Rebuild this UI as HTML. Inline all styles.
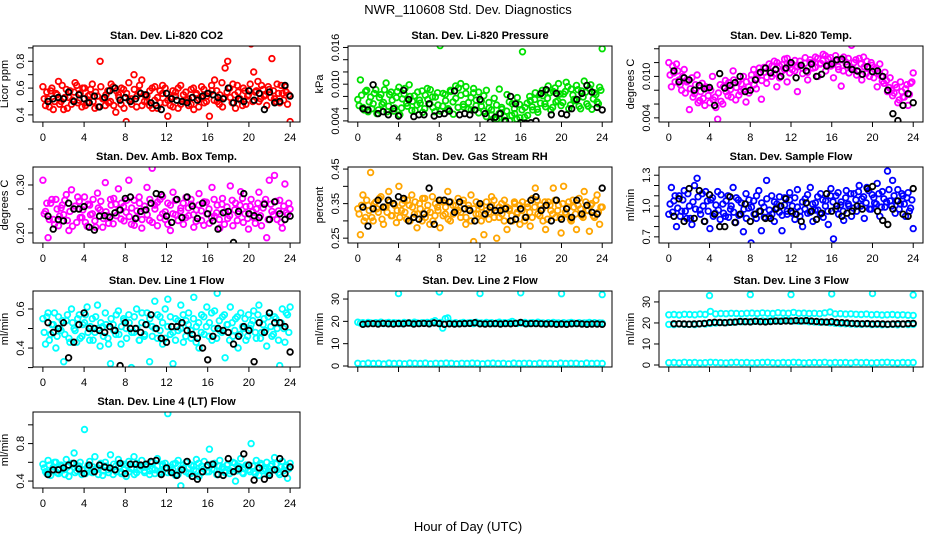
<!DOCTYPE html>
<html><head><meta charset="utf-8"><style>
html,body{margin:0;padding:0;background:#fff;}
svg{display:block;font-family:"Liberation Sans",Arial,sans-serif;}
</style></head><body>
<svg id="chart" width="936" height="540" viewBox="0 0 936 540">
<rect width="936" height="540" fill="#fff"/>
<text x="468" y="14" text-anchor="middle" font-size="13">NWR_110608  Std. Dev. Diagnostics</text>
<text x="468" y="531" text-anchor="middle" font-size="13">Hour of Day (UTC)</text>
</svg>
<script>
// ---- data (quarter-hour colored series, offset quarter-hour second series, half-hour black series) ----
const co2Color=[0.61,0.47,0.52,0.58,0.44,0.56,0.65,0.50,0.44,0.59,0.53,0.48,0.57,0.62,0.51,0.46,0.60,0.49,0.55,0.63,0.45,0.54,0.80,0.52,0.47,0.58,0.50,0.61,0.42,0.55,0.48,0.59,0.35,0.64,0.52,0.70,0.46,0.57,0.66,0.50,0.54,0.47,0.60,0.51,0.45,0.58,0.62,0.49,0.39,0.53,0.46,0.57,0.60,0.48,0.55,0.51,0.47,0.59,0.44,0.56,0.52,0.61,0.49,0.54,0.39,0.58,0.66,0.50,0.55,0.46,0.75,0.80,0.53,0.63,0.45,0.57,0.51,0.60,0.48,0.55,0.93,0.72,0.58,0.50,0.62,0.54,0.47,0.59,0.82,0.52,0.63,0.49,0.56,0.61,0.48,0.35];
const co2Color2=[0.52,0.57,0.46,0.60,0.50,0.55,0.48,0.62,0.53,0.45,0.58,0.51,0.64,0.49,0.56,0.60,0.47,0.54,0.59,0.50,0.57,0.46,0.61,0.52,0.55,0.49,0.63,0.47,0.58,0.53,0.60,0.45,0.56,0.51,0.48,0.59,0.54,0.62,0.47,0.55,0.50,0.58,0.45,0.61,0.53,0.49,0.56,0.60,0.51,0.47,0.58,0.54,0.45,0.62,0.50,0.57,0.52,0.48,0.60,0.55,0.46,0.53,0.59,0.50,0.56,0.62,0.51,0.58,0.48,0.64,0.53,0.57,0.60,0.49,0.55,0.62,0.52,0.47,0.58,0.54,0.63,0.50,0.57,0.65,0.52,0.59,0.55,0.61,0.53,0.58,0.50,0.56,0.62,0.51,0.57,0.55];
const co2Black=[0.50,0.52,0.53,0.52,0.57,0.50,0.55,0.52,0.49,0.54,0.46,0.53,0.58,0.60,0.51,0.53,0.50,0.52,0.56,0.55,0.49,0.47,0.44,0.56,0.52,0.51,0.50,0.49,0.53,0.51,0.54,0.56,0.55,0.53,0.52,0.60,0.49,0.52,0.50,0.58,0.51,0.56,0.44,0.57,0.49,0.50,0.62,0.54];
const presColor=[.0075,.0107,.0062,.0088,.0055,.0079,.0068,.0091,.0058,.0083,.0070,.0102,.0064,.0087,.0056,.0078,.0095,.0061,.0084,.0069,.0099,.0057,.0081,.0066,.0074,.0089,.0060,.0093,.0068,.0079,.0055,.0086,.0163,.0064,.0083,.0058,.0090,.0071,.0097,.0062,.0101,.0067,.0085,.0059,.0078,.0093,.0065,.0087,.0072,.0056,.0090,.0061,.0050,.0077,.0043,.0092,.0059,.0047,.0083,.0040,.0068,.0052,.0078,.0045,.0153,.0062,.0049,.0073,.0058,.0086,.0054,.0069,.0081,.0063,.0097,.0058,.0088,.0071,.0101,.0065,.0084,.0103,.0060,.0092,.0075,.0098,.0064,.0089,.0105,.0068,.0093,.0059,.0086,.0071,.0095,.0158];
const presColor2=[.0065,.0082,.0058,.0090,.0071,.0060,.0085,.0052,.0078,.0067,.0091,.0055,.0083,.0074,.0061,.0088,.0050,.0076,.0093,.0064,.0080,.0072,.0057,.0087,.0069,.0054,.0082,.0075,.0091,.0062,.0079,.0066,.0056,.0085,.0073,.0060,.0088,.0051,.0077,.0094,.0082,.0063,.0096,.0070,.0058,.0086,.0074,.0053,.0064,.0081,.0047,.0070,.0058,.0044,.0066,.0052,.0062,.0041,.0056,.0071,.0049,.0060,.0043,.0067,.0058,.0046,.0069,.0080,.0063,.0075,.0059,.0083,.0090,.0068,.0077,.0086,.0062,.0094,.0073,.0084,.0070,.0088,.0096,.0066,.0082,.0073,.0091,.0060,.0079,.0087,.0064,.0099,.0076,.0083,.0068,.0090];
const presBlack=[.0060,.0058,.0099,.0052,.0055,.0050,.0060,.0048,.0090,.0075,.0047,.0050,.0050,.0068,.0048,.0051,.0052,.0056,.0089,.0050,.0052,.0050,.0058,.0075,.0052,.0038,.0046,.0052,.0040,.0080,.0068,.0037,.0036,.0037,.0040,.0085,.0091,.0050,.0085,.0052,.0050,.0060,.0075,.0085,.0098,.0087,.0062,.0058];
const tempColor=[.0120,.0085,.0105,.0118,.0095,.0080,.0110,.0092,.0052,.0098,.0075,.0102,.0065,.0090,.0058,.0083,.0062,.0100,.0070,.0038,.0088,.0060,.0094,.0072,.0081,.0108,.0066,.0092,.0078,.0100,.0063,.0085,.0095,.0110,.0082,.0104,.0067,.0113,.0090,.0118,.0100,.0122,.0085,.0115,.0108,.0125,.0092,.0118,.0110,.0123,.0078,.0116,.0104,.0127,.0095,.0120,.0112,.0128,.0100,.0119,.0132,.0108,.0125,.0115,.0098,.0123,.0110,.0086,.0128,.0117,.0105,.0145,.0120,.0102,.0126,.0095,.0114,.0122,.0100,.0116,.0110,.0085,.0118,.0093,.0106,.0078,.0098,.0072,.0088,.0062,.0092,.0070,.0082,.0058,.0090,.0105];
const tempColor2=[.0102,.0115,.0092,.0108,.0088,.0100,.0076,.0094,.0082,.0070,.0088,.0062,.0078,.0068,.0085,.0072,.0080,.0066,.0055,.0076,.0064,.0085,.0078,.0091,.0070,.0095,.0084,.0073,.0089,.0081,.0092,.0076,.0102,.0088,.0097,.0112,.0094,.0106,.0099,.0108,.0115,.0104,.0120,.0098,.0117,.0110,.0126,.0105,.0118,.0108,.0114,.0122,.0112,.0119,.0106,.0124,.0120,.0113,.0126,.0118,.0123,.0130,.0116,.0127,.0120,.0130,.0114,.0124,.0108,.0121,.0126,.0112,.0110,.0124,.0107,.0118,.0128,.0104,.0112,.0120,.0098,.0112,.0104,.0100,.0090,.0094,.0084,.0080,.0076,.0084,.0066,.0078,.0070,.0088,.0074,.0092];
const tempBlack=[.0108,.0092,.0098,.0095,.0080,.0087,.0082,.0084,.0058,.0104,.0083,.0087,.0091,.0100,.0078,.0080,.0095,.0106,.0112,.0105,.0110,.0100,.0112,.0120,.0098,.0116,.0108,.0118,.0100,.0103,.0115,.0118,.0124,.0125,.0117,.0110,.0108,.0103,.0114,.0107,.0108,.0100,.0080,.0046,.0036,.0058,.0075,.0062];
const boxColor=[.310,.245,.19,.262,.228,.270,.215,.252,.238,.280,.205,.290,.250,.222,.266,.232,.275,.214,.258,.240,.225,.283,.248,.212,.305,.236,.270,.219,.260,.292,.229,.255,.243,.310,.218,.268,.232,.275,.210,.248,.295,.226,.335,.258,.215,.270,.240,.228,.262,.205,.285,.238,.172,.252,.218,.274,.236,.260,.212,.248,.282,.226,.265,.240,.220,.295,.235,.258,.210,.272,.244,.230,.298,.215,.262,.240,.286,.222,.255,.208,.270,.232,.250,.285,.215,.262,.190,.310,.245,.320,.228,.268,.210,.302,.238,.250];
const boxColor2=[.240,.262,.228,.270,.218,.250,.235,.258,.268,.226,.245,.214,.256,.275,.232,.248,.222,.260,.238,.270,.212,.252,.266,.230,.244,.220,.258,.272,.236,.248,.262,.225,.268,.234,.252,.216,.246,.262,.228,.256,.238,.270,.222,.250,.264,.232,.276,.244,.218,.258,.240,.268,.226,.246,.262,.232,.252,.270,.238,.224,.258,.246,.216,.264,.250,.232,.270,.242,.228,.260,.218,.254,.236,.268,.248,.226,.258,.272,.240,.230,.256,.244,.220,.262,.236,.252,.270,.228,.260,.238,.266,.246,.222,.256,.242,.262];
const boxBlack=[.235,.208,.228,.225,.262,.250,.250,.255,.212,.206,.235,.236,.233,.242,.248,.272,.275,.230,.245,.248,.262,.282,.280,.235,.222,.270,.232,.275,.256,.230,.262,.240,.225,.208,.242,.245,.180,.245,.282,.240,.236,.232,.260,.228,.265,.240,.228,.235];
const rhColor=[.335,.260,.375,.310,.345,.440,.300,.355,.325,.370,.290,.340,.385,.315,.350,.295,.400,.330,.360,.305,.345,.375,.320,.280,.350,.300,.365,.330,.290,.370,.315,.340,.280,.355,.320,.385,.300,.345,.330,.365,.310,.350,.290,.335,.375,.240,.320,.345,.300,.260,.355,.325,.370,.310,.250,.340,.320,.360,.275,.335,.300,.350,.325,.290,.355,.310,.340,.285,.365,.395,.320,.345,.300,.275,.355,.330,.395,.310,.345,.265,.400,.320,.355,.300,.340,.275,.365,.315,.385,.330,.270,.350,.310,.375,.290,.340];
const rhColor2=[.320,.345,.300,.360,.330,.310,.350,.335,.365,.305,.340,.325,.355,.315,.345,.330,.310,.350,.325,.360,.300,.340,.355,.320,.335,.365,.310,.345,.325,.300,.350,.330,.360,.315,.340,.305,.355,.320,.345,.330,.325,.360,.310,.345,.300,.335,.355,.320,.340,.315,.330,.305,.345,.360,.325,.310,.350,.300,.340,.330,.315,.355,.320,.345,.330,.300,.350,.325,.310,.340,.360,.315,.335,.355,.305,.345,.320,.360,.330,.310,.350,.325,.340,.305,.360,.320,.345,.335,.310,.355,.330,.345,.315,.360,.325,.340];
const rhBlack=[.340,.285,.335,.360,.340,.360,.350,.370,.365,.300,.310,.305,.320,.395,.290,.360,.360,.355,.325,.355,.335,.330,.300,.350,.320,.340,.330,.330,.335,.300,.305,.335,.310,.360,.370,.330,.345,.300,.360,.305,.335,.310,.360,.320,.345,.325,.320,.395];
const sampColor=[.92,1.18,1.05,.80,1.10,.95,1.15,.88,1.00,.82,1.20,1.27,.96,1.12,.85,1.05,.78,1.08,.93,1.14,.87,1.02,.90,1.10,.97,1.18,.84,1.06,.92,.75,1.12,.98,.64,1.05,.88,1.15,.76,.99,1.25,.90,1.10,.85,1.02,.94,.76,1.08,.92,1.13,1.00,.87,1.16,.95,.80,1.07,.93,1.18,.85,1.03,.96,1.12,.89,1.05,.82,1.17,.68,1.10,.92,1.04,.86,1.15,1.00,.90,1.12,.95,1.20,1.07,.88,1.18,.97,1.11,1.03,1.22,.90,1.14,.99,1.34,1.05,1.25,.93,1.16,1.02,1.10,.90,1.13,.98,.78];
const sampColor2=[1.02,.94,1.10,.98,.90,1.06,.95,1.12,.88,1.04,.97,1.09,.92,1.00,1.14,.95,1.06,.90,1.01,.96,1.11,.93,1.05,.89,1.00,.94,1.08,.91,1.03,.97,.88,1.06,.99,.92,1.10,.95,1.03,.89,1.07,.96,.92,1.04,.98,1.09,.91,1.01,.95,1.06,.93,1.08,.99,.90,1.04,.97,1.11,.94,1.02,.96,1.09,.92,1.06,1.00,.95,1.10,1.04,.97,1.13,1.01,.95,1.08,1.02,1.12,.98,1.06,1.14,1.00,1.09,1.03,1.15,.97,1.08,1.02,1.12,.99,1.07,1.04,1.16,1.00,1.10,1.05,.97,1.12,1.02,1.08,.95,1.06];
const sampBlack=[.90,1.07,.85,1.17,.88,1.15,.85,1.11,.92,.80,.80,1.09,.84,.92,1.02,.85,.92,.95,.88,.88,.97,1.00,1.07,.95,.92,.85,1.03,.95,.87,.93,1.12,.95,1.00,.90,.93,.95,1.00,.97,1.17,1.19,.95,.86,.82,.97,1.05,.92,.90,1.17];
const l1Color=[.55,.42,.58,.47,.52,.40,.56,.49,.33,.54,.45,.60,.50,.43,.57,.46,.53,.61,.44,.55,.48,.62,.41,.51,.58,.45,.32,.52,.47,.59,.42,.55,.50,.57,.30,.48,.60,.44,.53,.46,.58,.33,.51,.64,.45,.56,.42,.60,.65,.47,.32,.55,.49,.62,.43,.54,.58,.45,.66,.51,.40,.57,.47,.61,.53,.44,.59,.68,.49,.56,.35,.52,.61,.46,.55,.40,.58,.50,.44,.57,.52,.59,.45,.62,.48,.55,.41,.58,.46,.56,.50,.31,.60,.43,.57,.61];
const l1Color2=[.48,.56,.44,.52,.58,.46,.50,.54,.47,.57,.43,.53,.49,.55,.45,.52,.57,.48,.51,.44,.56,.50,.53,.46,.52,.42,.55,.49,.57,.47,.51,.54,.45,.53,.48,.56,.50,.44,.58,.47,.52,.55,.46,.50,.57,.49,.53,.45,.51,.56,.48,.44,.54,.50,.57,.46,.52,.49,.55,.43,.53,.48,.56,.51,.46,.58,.50,.45,.54,.48,.57,.52,.44,.53,.49,.56,.47,.51,.55,.46,.50,.54,.48,.57,.45,.52,.49,.56,.51,.47,.55,.44,.53,.50,.58,.48];
const l1Black=[.53,.48,.50,.53,.35,.43,.52,.58,.50,.50,.49,.48,.51,.49,.31,.53,.50,.50,.48,.52,.57,.50,.45,.43,.51,.51,.53,.49,.47,.45,.40,.34,.46,.50,.49,.48,.42,.46,.51,.49,.33,.53,.48,.58,.53,.53,.51,.38];
const l2Hi=[19.6,19.2,19.4,19.0,19.5,19.3,19.1,19.4,19.2,19.6,19.0,19.3,19.5,19.1,19.4,19.2,19.3,19.0,19.5,19.2,19.4,19.1,19.6,19.3,19.1,19.4,19.2,19.5,19.0,19.8,20.3,19.2,19.5,17.0,21.2,21.5,19.3,19.1,19.4,19.0,19.2,19.5,19.1,19.3,19.4,19.0,19.6,19.2,19.3,19.1,19.5,19.2,19.4,19.0,19.3,19.6,19.1,19.4,19.2,19.5,20.0,19.3,19.1,19.4,19.2,19.5,19.0,19.3,19.4,19.1,19.6,19.2,19.3,19.0,19.4,19.1,19.5,19.2,19.3,19.0,19.4,19.1,19.3,19.5,19.2,19.0,19.4,19.1,19.3,19.2,19.5,19.0,19.4,19.1,19.3,19.2];
const l2Lo=[1.2,1.0,1.3,1.1,1.2,0.9,1.3,1.1,1.2,1.0,1.3,1.2,1.1,1.3,1.0,1.2,1.1,1.3,1.2,1.0,1.2,1.1,1.3,1.2,1.0,1.2,1.3,1.1,1.2,1.0,1.3,1.1,1.2,1.2,1.0,1.3,1.1,1.2,1.0,1.3,1.1,1.2,1.2,1.0,1.3,1.1,1.2,1.1];
const l2Black=[18.7,18.9,19.0,18.8,19.1,18.9,18.8,19.0,18.9,19.2,18.8,19.0,19.1,18.9,19.3,19.0,18.7,18.9,18.8,18.9,19.0,19.1,19.4,18.9,18.8,18.9,19.0,18.8,19.0,18.9,19.1,19.5,18.9,19.0,19.0,18.9,18.8,18.9,18.7,18.8,18.7,18.9,19.0,18.8,18.7,18.8,18.8,18.7];
const outlierHours=[4,8,12,16,20,24];
const l2Out=[32.5,33.2,32.5,32.8,32.4,32.0];
const l3Hi=[23.9,24.0,23.8,24.1,24.0,23.9,24.2,24.0,25.5,24.3,24.5,24.4,24.6,24.5,24.4,24.6,24.7,24.5,24.8,24.6,24.5,24.9,24.7,24.6,25.0,24.6,24.7,24.5,24.6,24.4,24.8,25.2,24.3,24.4,24.2,24.3,24.1,24.0,24.2,23.9,24.0,23.8,23.9,24.0,23.8,23.9,23.7,23.6];
const l3Mid=[19.3,19.2,19.5,19.3,19.4,19.2,19.6,19.5,19.8,20.0,20.2,20.1,20.3,20.5,20.6,20.8,20.7,20.9,21.0,20.9,21.1,21.0,21.2,21.1,21.0,20.8,20.9,20.6,20.5,20.3,20.4,20.1,19.9,19.7,19.6,19.5,19.4,19.3,19.5,19.2,19.3,19.1,19.2,19.3,19.1,19.4,19.2,19.3];
const l3Lo=[1.1,1.2,1.0,1.3,1.1,1.2,1.0,1.1,1.3,1.2,1.1,1.0,1.2,1.3,1.1,1.2,1.0,1.1,1.2,1.3,1.1,1.0,1.2,1.1,1.3,1.2,1.0,1.1,1.2,1.1,1.3,1.0,1.2,1.1,1.2,1.0,1.3,1.1,1.2,1.0,1.1,1.2,1.3,1.1,1.0,1.2,1.1,1.2];
const l3Black=[19.6,19.6,19.5,19.4,19.5,19.6,19.8,20.1,20.3,20.2,20.1,20.3,20.4,20.7,20.6,20.5,20.8,20.6,20.5,20.7,20.9,20.8,21.0,20.9,21.1,21.0,21.1,20.9,20.7,20.5,20.4,20.6,20.2,20.1,20.0,19.8,19.7,19.6,19.7,19.5,19.6,19.5,19.4,19.5,19.6,19.5,19.7,19.8];
const l3Out=[33.0,33.5,33.5,33.8,34.0,33.3];
const l4Color=[.58,.50,.62,.46,.55,.60,.48,.57,.52,.63,.45,.59,.70,.51,.56,.47,.95,.54,.61,.49,.66,.53,.58,.46,.60,.52,.68,.47,.56,.63,.50,.58,.45,.61,.53,.66,.49,.57,.62,.51,.55,.47,.60,.52,.64,.48,.56,.59,1.12,.50,.58,.46,.62,.35,.54,.60,.48,.57,.52,.63,.45,.56,.61,.50,.74,.53,.59,.47,.62,.55,.49,.58,.51,.60,.40,.56,.64,.48,.57,.52,.80,.50,.62,.46,.57,.53,.60,.49,.58,.65,.52,.47,.61,.55,.43,.59];
const l4Color2=[.54,.48,.57,.51,.60,.49,.53,.56,.47,.55,.51,.58,.49,.54,.60,.52,.48,.57,.50,.55,.53,.47,.59,.51,.56,.49,.53,.58,.50,.55,.48,.52,.57,.50,.54,.47,.59,.52,.55,.49,.57,.51,.53,.48,.56,.50,.58,.54,.49,.55,.52,.59,.47,.53,.57,.50,.54,.48,.56,.51,.59,.49,.53,.55,.50,.58,.52,.47,.56,.53,.50,.57,.48,.54,.59,.51,.55,.49,.53,.57,.50,.56,.48,.54,.59,.51,.53,.47,.56,.52,.58,.49,.55,.51,.57,.53];
const l4Black=[.47,.52,.52,.54,.57,.59,.53,.48,.57,.50,.57,.55,.54,.52,.59,.48,.58,.58,.57,.58,.61,.62,.47,.54,.49,.46,.52,.61,.45,.42,.50,.57,.58,.47,.46,.64,.50,.53,.69,.57,.41,.54,.42,.46,.52,.64,.48,.55];
const xTicks=[0,4,8,12,16,20,24];

const NS='http://www.w3.org/2000/svg';
const svg=document.getElementById('chart');
function mk(tag,attrs,parent){const e=document.createElementNS(NS,tag);for(const k in attrs)e.setAttribute(k,attrs[k]);(parent||svg).appendChild(e);return e;}
// time grid: mode 0 = evenly 0..24, 1 = (i+1)*step, 2 = offset by half a step
function hoursFor(arr,mode){
 if(mode===1){const s=24/arr.length;return arr.map((_,i)=>(i+1)*s);}
 if(mode===2){const s=24/arr.length;return arr.map((_,i)=>(i+0.5)*s);}
 const s=24/(arr.length-1);return arr.map((_,i)=>i*s);
}

const colL=[33,348,659],colR=[300,612,923],rowT=[46,167,291,412],H=76;
const panels=[
 {t:'Stan. Dev. Li-820 CO2',yl:'Licor ppm',c:0,r:0,y0:0.347,y1:0.914,ticks:[0.4,0.5,0.6,0.7,0.8,0.9],labs:{'0.4':'0.4','0.6':'0.6','0.8':'0.8'},series:[[co2Color2,'#ff0000',2],[co2Color,'#ff0000',0],[co2Black,'#000',1]]},
 {t:'Stan. Dev. Li-820 Pressure',yl:'kPa',c:1,r:0,y0:0.00382,y1:0.01624,ticks:[.004,.006,.008,.010,.012,.014,.016],labs:{'0.004':'0.004','0.01':'0.010','0.016':'0.016'},series:[[presColor2,'#00e000',2],[presColor,'#00e000',0],[presBlack,'#000',1]]},
 {t:'Stan. Dev. Li-820 Temp.',yl:'degrees C',c:2,r:0,y0:0.0034,y1:0.0144,ticks:[.004,.006,.008,.010,.012,.014],labs:{'0.004':'0.004','0.01':'0.010'},series:[[tempColor2,'#ff00ff',2],[tempColor,'#ff00ff',0],[tempBlack,'#000',1]]},
 {t:'Stan. Dev. Amb. Box Temp.',yl:'degrees C',c:0,r:1,y0:0.179,y1:0.3375,ticks:[.20,.25,.30],labs:{'0.2':'0.20','0.3':'0.30'},series:[[boxColor2,'#ff00ff',2],[boxColor,'#ff00ff',0],[boxBlack,'#000',1]]},
 {t:'Stan. Dev. Gas Stream RH',yl:'percent',c:1,r:1,y0:0.236,y1:0.456,ticks:[.25,.30,.35,.40,.45],labs:{'0.25':'0.25','0.35':'0.35','0.45':'0.45'},series:[[rhColor2,'#ffa500',2],[rhColor,'#ffa500',0],[rhBlack,'#000',1]]},
 {t:'Stan. Dev. Sample Flow',yl:'ml/min',c:2,r:1,y0:0.64,y1:1.38,ticks:[.7,.8,.9,1.0,1.1,1.2,1.3],labs:{'0.7':'0.7','1':'1.0','1.3':'1.3'},series:[[sampColor2,'#0000ff',2],[sampColor,'#0000ff',0],[sampBlack,'#000',1]]},
 {t:'Stan. Dev. Line 1 Flow',yl:'ml/min',c:0,r:2,y0:0.303,y1:0.692,ticks:[.3,.4,.5,.6],labs:{'0.4':'0.4','0.6':'0.6'},series:[[l1Color2,'#00ffff',2],[l1Color,'#00ffff',0],[l1Black,'#000',1]]},
 {t:'Stan. Dev. Line 2 Flow',yl:'ml/min',c:1,r:2,y0:-0.45,y1:33.6,ticks:[0,10,20,30],labs:{'0':'0','10':'10','20':'20','30':'30'},series:[[l2Hi,'#00ffff',0],[l2Lo,'#00ffff',0],[l2Black,'#000',1]],out:l2Out},
 {t:'Stan. Dev. Line 3 Flow',yl:'ml/min',c:2,r:2,y0:-0.95,y1:35.2,ticks:[0,10,20,30],labs:{'0':'0','10':'10','20':'20','30':'30'},series:[[l3Hi,'#00ffff',0],[l3Mid,'#00ffff',0],[l3Lo,'#00ffff',0],[l3Black,'#000',1]],out:l3Out},
 {t:'Stan. Dev. Line 4 (LT) Flow',yl:'ml/min',c:0,r:3,y0:0.326,y1:1.137,ticks:[.4,.6,.8,1.0],labs:{'0.4':'0.4','0.8':'0.8'},series:[[l4Color2,'#00ffff',2],[l4Color,'#00ffff',0],[l4Black,'#000',1]]}
];

panels.forEach((p,pi)=>{
 const L=colL[p.c],R=colR[p.c],T=rowT[p.r],B=T+H;
 const g=mk('g',{});
 
 
 const xs=h=>L+(h+0.96)/25.92*(R-L);
 const ys=v=>B-(v-p.y0)/(p.y1-p.y0)*H;
 const cp=mk('clipPath',{id:'cp'+pi},g);mk('rect',{x:L,y:T,width:R-L,height:H},cp);
 const pts=mk('g',{'clip-path':'url(#cp'+pi+')'},g);
 
 
 const draw=(vals,hrs,col)=>{vals.forEach((v,i)=>{const c=mk('circle',{cx:xs(hrs[i]).toFixed(1),cy:ys(v).toFixed(1),r:2.8,fill:'none',stroke:col,'stroke-width':1.8},pts);
  
  });};
 p.series.forEach(s=>draw(s[0],hoursFor(s[0],s[2]),s[1]));
 if(p.out) draw(p.out,outlierHours,'#00ffff');
 const box=mk('rect',{x:L,y:T,width:R-L,height:H,fill:'none',stroke:'#000','stroke-width':1},g);
 
 
 const title=mk('text',{x:(L+R)/2,y:T-7,'text-anchor':'middle','font-size':11,'font-weight':'bold'},g);title.textContent=p.t;
 
 
 const xa=mk('g',{},g);
 
 
 mk('line',{x1:xs(0),x2:xs(24),y1:B,y2:B,stroke:'#000'},xa);
 xTicks.forEach(h=>{mk('line',{x1:xs(h),x2:xs(h),y1:B,y2:B+5,stroke:'#000'},xa);
  if(p.r===2&&p.c>0)return;
  const t=mk('text',{x:xs(h),y:B+19,'text-anchor':'middle','font-size':11},xa);t.textContent=h;
  
  });
 const ya=mk('g',{},g);
 
 
 const tk=p.ticks.filter(v=>ys(v)>=T-1&&ys(v)<=B+1);
 mk('line',{x1:L,x2:L,y1:ys(tk[0]),y2:ys(tk[tk.length-1]),stroke:'#000'},ya);
 tk.forEach(v=>{const y=ys(v);mk('line',{x1:L-5,x2:L,y1:y,y2:y,stroke:'#000'},ya);
  const key=String(+v.toFixed(4));
  if(p.labs[key]){const t=mk('text',{x:0,y:0,'text-anchor':'middle','font-size':11,transform:`translate(${L-9},${y}) rotate(-90)`},ya);t.textContent=p.labs[key];
   
   }});
 const yt=mk('text',{x:0,y:0,'text-anchor':'middle','font-size':11,transform:`translate(${L-25},${(T+B)/2}) rotate(-90)`},g);yt.textContent=p.yl;
 
 
});
</script>
</body></html>
